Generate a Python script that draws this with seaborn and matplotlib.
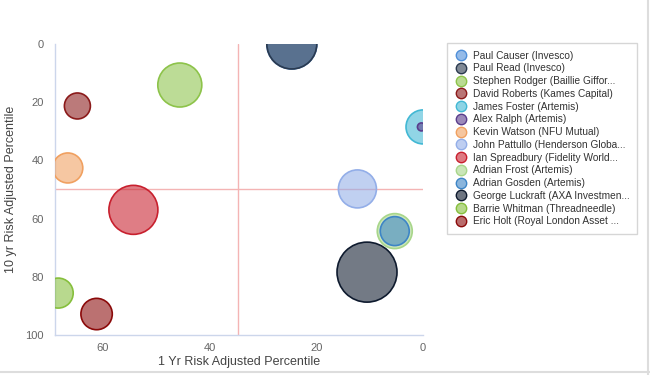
import matplotlib
matplotlib.use("Agg")
import matplotlib.pyplot as plt
from matplotlib.lines import Line2D
import seaborn as sns
import pandas as pd
import numpy as np

names = [
    "Paul Causer (Invesco)",
    "Paul Read (Invesco)",
    "Stephen Rodger (Baillie Giffor...",
    "David Roberts (Kames Capital)",
    "James Foster (Artemis)",
    "Alex Ralph (Artemis)",
    "Kevin Watson (NFU Mutual)",
    "John Pattullo (Henderson Globa...",
    "Ian Spreadbury (Fidelity World...",
    "Adrian Frost (Artemis)",
    "Adrian Gosden (Artemis)",
    "George Luckraft (AXA Investmen...",
    "Barrie Whitman (Threadneedle)",
    "Eric Holt (Royal London Asset ...",
]
one_yr = [24.6, 24.6, 45.6, 64.8, 0.0, 0.3, 66.6, 12.3, 54.3, 5.3, 5.3, 10.5, 68.4, 61.2]
ten_yr = [0.0, 0.0, 14.1, 21.3, 28.5, 28.5, 42.6, 49.8, 57.0, 64.3, 64.3, 78.4, 85.6, 92.8]
bubble_z = [625, 625, 484, 169, 289, 16, 225, 361, 600, 306, 210, 900, 225, 246]
colors = ["#4f8fd9", "#2b3a4f", "#8dc34a", "#8b1a1a", "#42b8d4", "#5a3d8c", "#f0a060",
          "#93aee8", "#c8202e", "#a8d68a", "#3d85c6", "#0e1a2e", "#86bf3c", "#8b0a0a"]
x_ticks = [60, 40, 20, 0]
y_ticks = [0, 20, 40, 60, 80, 100]
x_ref = 34.75
y_ref = 50

df = pd.DataFrame({"name": names, "x": one_yr, "y": ten_yr, "z": bubble_z})

sns.set_style("white")
plt.rcParams["font.family"] = ["Liberation Sans", "DejaVu Sans"]

fig = plt.figure(figsize=(6.5, 3.75), dpi=100)
ax = fig.add_axes([0.0846, 0.1067, 0.5662, 0.776])

k = 2.073
zmin, zmax = min(bubble_z), max(bubble_z)
sns.scatterplot(data=df, x="x", y="y", hue="name", size="z", palette=colors,
                hue_order=names, sizes=(k * zmin, k * zmax), size_norm=(zmin, zmax),
                legend=False, ax=ax, linewidth=1.2, zorder=3)

coll = ax.collections[0]
fc = np.array(coll.get_facecolors())
ec = fc.copy()
fc[:, 3] = 0.58
coll.set_facecolors(fc)
coll.set_edgecolors(ec)

ax.axvline(x_ref, color="#f4b4b4", lw=1, zorder=1)
ax.axhline(y_ref, color="#f4b4b4", lw=1, zorder=1)

ax.set_xlim(69, 0)
ax.set_ylim(100, 0)
ax.set_xticks(x_ticks)
ax.set_yticks(y_ticks)
ax.tick_params(axis="x", colors="#ccd6eb", labelcolor="#666666", labelsize=8, length=4, width=1, pad=2)
ax.tick_params(axis="y", labelcolor="#666666", labelsize=8, length=0, pad=8)
for s in ["top", "right"]:
    ax.spines[s].set_visible(False)
for s in ["left", "bottom"]:
    ax.spines[s].set_color("#ccd6eb")
    ax.spines[s].set_linewidth(1)
ax.set_xlabel("1 Yr Risk Adjusted Percentile", fontsize=9, color="#444444", labelpad=2)
ax.set_ylabel("10 yr Risk Adjusted Percentile", fontsize=9, color="#444444")
ax.yaxis.set_label_coords(-0.103, 0.5)

handles = []
for n, c in zip(names, colors):
    rgba = list(matplotlib.colors.to_rgba(c))
    face = rgba[:3] + [0.6]
    handles.append(Line2D([0], [0], marker="o", linestyle="none", markersize=7.5,
                          markerfacecolor=face, markeredgecolor=c, markeredgewidth=1))
leg = fig.legend(handles=handles, labels=names, loc="upper left",
                 bbox_to_anchor=(0.688, 0.885), fontsize=7.3, labelspacing=0.27,
                 handletextpad=0.6, borderpad=0.75, fancybox=False, frameon=True,
                 handlelength=1.2, borderaxespad=0)
leg.get_frame().set_edgecolor("#cccccc")
leg.get_frame().set_linewidth(1)
for t in leg.get_texts():
    t.set_color("#333333")

fig.add_artist(Line2D([0, 1], [0.008, 0.008], transform=fig.transFigure, color="#dddddd", lw=1.5))
fig.add_artist(Line2D([0.997, 0.997], [0, 1], transform=fig.transFigure, color="#dddddd", lw=1.5))

fig.savefig("out.png", dpi=100)
